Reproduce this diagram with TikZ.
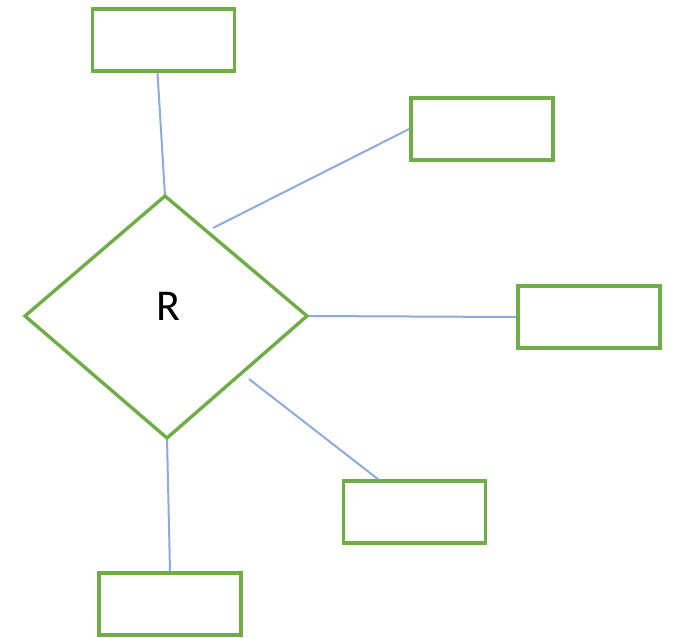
\documentclass[tikz,border=0pt]{standalone}
\usepackage{fontspec}
\setmainfont{Carlito}
\usetikzlibrary{calc}
\definecolor{grn}{HTML}{70AD47}
\definecolor{lnk}{HTML}{8FAADC}
\begin{document}
\begin{tikzpicture}[x=1pt,y=-1pt,
  ent/.style={draw=grn,line width=3.6pt,fill=white,minimum width=142pt,minimum height=62pt,inner sep=0pt},
  conn/.style={draw=lnk,line width=2pt}]
\useasboundingbox (0,0) rectangle (673,638);
% diamond
\coordinate (dl) at (25,316);
\coordinate (dt) at (165,196);
\coordinate (dr) at (307,316);
\coordinate (db) at (167,438);
\node (R) at (168,306) {\fontsize{44}{48}\selectfont R};
\node[ent] (e1) at (163.5,40) {};
\node[ent] (e2) at (482,129) {};
\node[ent] (e3) at (589,317) {};
\node[ent] (e4) at (414.5,512) {};
\node[ent] (e5) at (170,604) {};
\coordinate (c2) at (213,228);
\coordinate (c4) at (249,379);
\draw[conn] (e1.south) ++(-6,0) -- (dt);
\draw[conn] (c2) -- (e2.west);
\draw[conn] (dr) -- (e3.west);
\draw[conn] (c4) -- ($(e4.north west)!0.25!(e4.north east)$);
\draw[conn] (db) -- (e5.north);
\draw[grn,line width=3.4pt,line join=miter] (dl) -- (dt) -- (dr) -- (db) -- cycle;
\end{tikzpicture}
\end{document}
